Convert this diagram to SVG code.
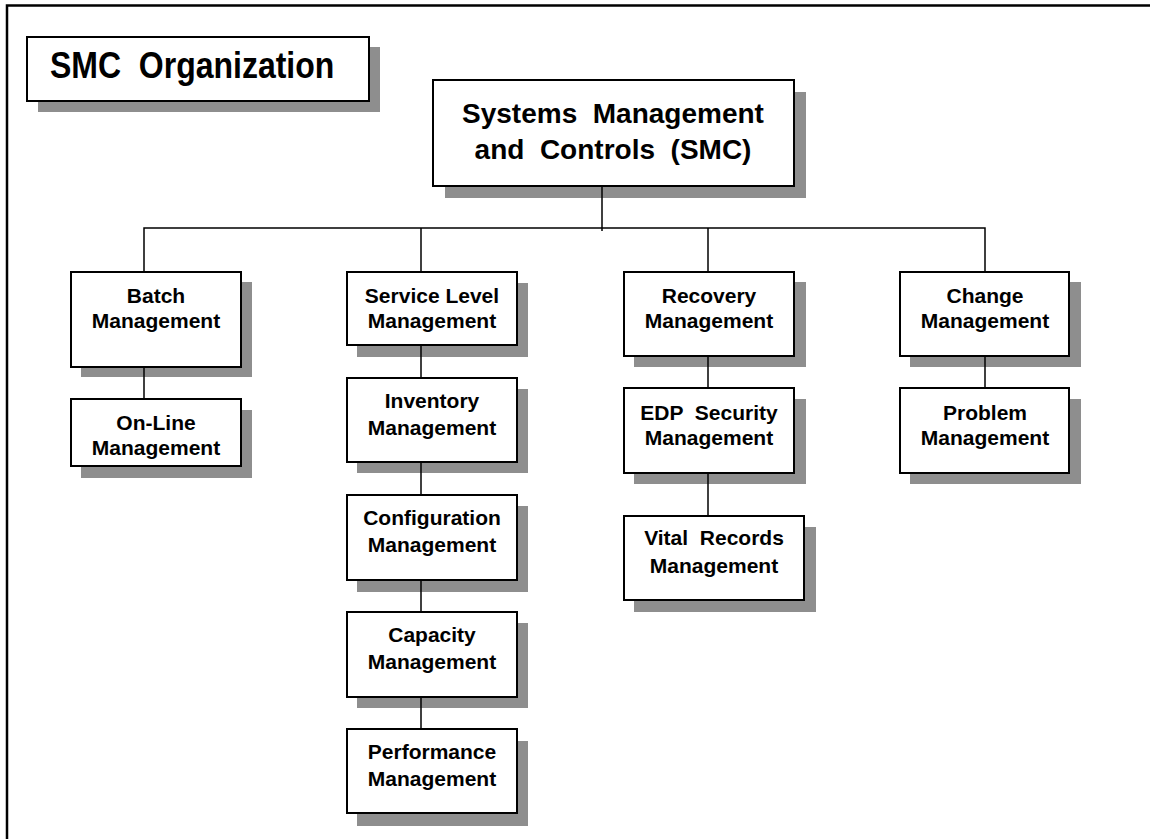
<svg xmlns="http://www.w3.org/2000/svg" width="1150" height="839" viewBox="0 0 1150 839">
  <style>
    .shadow { fill: #8e8e8e; stroke: none; }
    .box { fill: #ffffff; stroke: #000000; stroke-width: 2; }
    .lbl { font-family: "Liberation Sans", Arial, sans-serif; font-weight: bold; font-size: 21px; fill: #000000; text-anchor: middle; }
    .big { font-family: "Liberation Sans", Arial, sans-serif; font-weight: bold; font-size: 28px; fill: #000000; text-anchor: middle; }
    .title { font-family: "Liberation Sans", Arial, sans-serif; font-weight: bold; font-size: 32px; fill: #000000; }
    .wire { fill: none; stroke: #000000; stroke-width: 1.5; }
    .frame { fill: none; stroke: #000000; stroke-width: 2.5; }
  </style>

  <rect x="0" y="0" width="1150" height="839" fill="#ffffff"/>

  <!-- page frame: top and left rules -->
  <path class="frame" d="M7 839 V5.5 H1150"/>

  <!-- title panel -->
  <g id="title">
    <rect class="shadow" x="38" y="47" width="342" height="65"/>
    <rect class="box" x="27" y="37" width="342" height="64"/>
    <text class="title" transform="translate(50 78) scale(1 1.17)" xml:space="preserve">SMC  Organization</text>
  </g>

  <g id="smc">
    <rect class="shadow" x="445" y="92" width="361" height="106"/>
    <rect class="box" x="433" y="80" width="361" height="106"/>
    <text class="big" x="613" y="123" xml:space="preserve">Systems  Management</text>
    <text class="big" x="613" y="159" xml:space="preserve">and  Controls  (SMC)</text>
  </g>

  <!-- first column -->
  <g id="batch">
    <rect class="shadow" x="81" y="282" width="171" height="95"/>
    <rect class="box" x="71" y="272" width="170" height="95"/>
    <text class="lbl" x="156" y="303">Batch</text>
    <text class="lbl" x="156" y="328">Management</text>
  </g>
  <g id="online">
    <rect class="shadow" x="81" y="410" width="171" height="68"/>
    <rect class="box" x="71" y="399" width="170" height="67"/>
    <text class="lbl" x="156" y="430">On-Line</text>
    <text class="lbl" x="156" y="455">Management</text>
  </g>

  <!-- second column -->
  <g id="service-level">
    <rect class="shadow" x="357" y="283" width="171" height="74"/>
    <rect class="box" x="347" y="272" width="170" height="73"/>
    <text class="lbl" x="432" y="303">Service Level</text>
    <text class="lbl" x="432" y="328">Management</text>
  </g>
  <g id="inventory">
    <rect class="shadow" x="357" y="389" width="171" height="84"/>
    <rect class="box" x="347" y="378" width="170" height="84"/>
    <text class="lbl" x="432" y="408">Inventory</text>
    <text class="lbl" x="432" y="435">Management</text>
  </g>
  <g id="configuration">
    <rect class="shadow" x="357" y="506" width="171" height="86"/>
    <rect class="box" x="347" y="495" width="170" height="85"/>
    <text class="lbl" x="432" y="525">Configuration</text>
    <text class="lbl" x="432" y="552">Management</text>
  </g>
  <g id="capacity">
    <rect class="shadow" x="357" y="623" width="171" height="85"/>
    <rect class="box" x="347" y="612" width="170" height="85"/>
    <text class="lbl" x="432" y="642">Capacity</text>
    <text class="lbl" x="432" y="669">Management</text>
  </g>
  <g id="performance">
    <rect class="shadow" x="357" y="741" width="171" height="85"/>
    <rect class="box" x="347" y="729" width="170" height="84"/>
    <text class="lbl" x="432" y="759">Performance</text>
    <text class="lbl" x="432" y="786">Management</text>
  </g>

  <!-- third column -->
  <g id="recovery">
    <rect class="shadow" x="634" y="282" width="172" height="85"/>
    <rect class="box" x="624" y="272" width="170" height="84"/>
    <text class="lbl" x="709" y="303">Recovery</text>
    <text class="lbl" x="709" y="328">Management</text>
  </g>
  <g id="edp-security">
    <rect class="shadow" x="634" y="399" width="172" height="85"/>
    <rect class="box" x="624" y="388" width="170" height="85"/>
    <text class="lbl" x="709" y="420" xml:space="preserve">EDP  Security</text>
    <text class="lbl" x="709" y="445">Management</text>
  </g>
  <g id="vital-records">
    <rect class="shadow" x="634" y="527" width="182" height="85"/>
    <rect class="box" x="624" y="516" width="180" height="84"/>
    <text class="lbl" x="714" y="545" xml:space="preserve">Vital  Records</text>
    <text class="lbl" x="714" y="573">Management</text>
  </g>

  <!-- fourth column -->
  <g id="change">
    <rect class="shadow" x="910" y="282" width="171" height="85"/>
    <rect class="box" x="900" y="272" width="169" height="84"/>
    <text class="lbl" x="985" y="303">Change</text>
    <text class="lbl" x="985" y="328">Management</text>
  </g>
  <g id="problem">
    <rect class="shadow" x="910" y="399" width="171" height="85"/>
    <rect class="box" x="900" y="388" width="169" height="85"/>
    <text class="lbl" x="985" y="420">Problem</text>
    <text class="lbl" x="985" y="445">Management</text>
  </g>

  <!-- reporting lines -->
  <g id="connectors">
    <path class="wire" d="M602 186 V231"/>
    <path class="wire" d="M144 272 V228 H985 V272"/>
    <path class="wire" d="M421 228 V272"/>
    <path class="wire" d="M708 228 V272"/>
    <path class="wire" d="M144 367 V399"/>
    <path class="wire" d="M421 345 V378"/>
    <path class="wire" d="M421 462 V495"/>
    <path class="wire" d="M421 580 V612"/>
    <path class="wire" d="M421 697 V729"/>
    <path class="wire" d="M708 356 V388"/>
    <path class="wire" d="M708 473 V516"/>
    <path class="wire" d="M985 356 V388"/>
  </g>
</svg>
